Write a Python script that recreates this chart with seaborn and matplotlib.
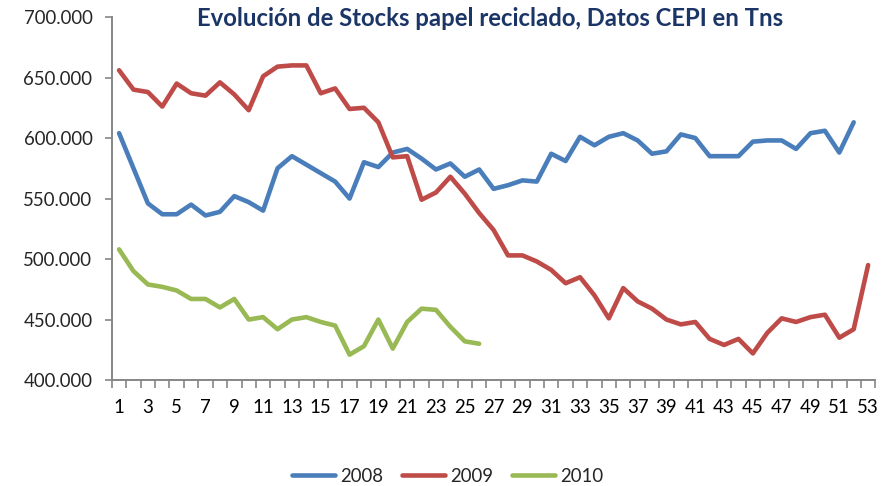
#!/usr/bin/env python3
# -*- coding: utf-8 -*-
"""
Evolucion de stocks de papel reciclado (datos CEPI, en toneladas)
una linea por anyo, semanas 1-53
"""

import numpy as np
import pandas as pd
import matplotlib.pyplot as plt
import seaborn as sns
from matplotlib.ticker import FuncFormatter, FixedLocator

# stocks semanales en miles de toneladas
stocks_2008 = [604, 575, 546, 537, 537, 545, 536, 539, 552, 547,
               540, 575, 585, 578, 571, 564, 550, 580, 576, 588,
               591, 583, 574, 579, 568, 574, 558, 561, 565, 564,
               587, 581, 601, 594, 601, 604, 598, 587, 589, 603,
               600, 585, 585, 585, 597, 598, 598, 591, 604, 606,
               588, 613]
stocks_2009 = [656, 640, 638, 626, 645, 637, 635, 646, 636, 623,
               651, 659, 660, 660, 637, 641, 624, 625, 613, 584,
               585, 549, 555, 568, 554, 538, 524, 503, 503, 498,
               491, 480, 485, 470, 451, 476, 465, 459, 450, 446,
               448, 434, 429, 434, 422, 439, 451, 448, 452, 454,
               435, 442, 495]
stocks_2010 = [508, 490, 479, 477, 474, 467, 467, 460, 467, 450,
               452, 442, 450, 452, 448, 445, 421, 428, 450, 426,
               448, 459, 458, 444, 432, 430]

years = ['2008', '2009', '2010']
colors = ['#4A7EBB', '#BE4B48', '#98B954']
title = 'Evolución de Stocks papel reciclado, Datos CEPI en Tns'

# tabla larga para seaborn
frames = []
for year, vals in zip(years, [stocks_2008, stocks_2009, stocks_2010]):
    frames.append(pd.DataFrame({'semana': np.arange(1, len(vals) + 1),
                                'stock': np.array(vals) * 1000,
                                'year': year}))
df = pd.concat(frames, ignore_index=True)

sns.set_style('white')
plt.rcParams['font.family'] = ['Lato', 'DejaVu Sans']

fig = plt.figure(figsize=(8.95, 4.86), dpi=100)
ax = fig.add_axes([0.125, 0.218, 0.853, 0.747])

sns.lineplot(data=df, x='semana', y='stock', hue='year', palette=colors,
             linewidth=3.3, ax=ax, legend=False)

# ejes tipo excel: categorias, marcas entre semanas
ax.set_xlim(0.5, 53.5)
ax.set_ylim(400000, 700000)
ax.set_yticks(np.arange(400000, 700001, 50000))
ax.yaxis.set_major_formatter(FuncFormatter(lambda v, p: '{:,.0f}'.format(v).replace(',', '.')))
ax.set_xticks(np.arange(1, 54, 2))
ax.xaxis.set_minor_locator(FixedLocator(np.arange(0.5, 54, 1)))
ax.tick_params(axis='x', which='major', length=0, labelsize=13.4, pad=14, colors='black')
ax.tick_params(axis='x', which='minor', length=6, width=1.2, color='#868686', direction='out')
ax.tick_params(axis='y', which='major', length=5, width=1.2, color='#868686', direction='out',
               labelsize=13.4, pad=9)
ax.xaxis.set_ticks_position('bottom')
ax.yaxis.set_ticks_position('left')
ax.set_xlabel('')
ax.set_ylabel('')

for s in ['top', 'right']:
    ax.spines[s].set_visible(False)
for s in ['left', 'bottom']:
    ax.spines[s].set_color('#868686')
    ax.spines[s].set_linewidth(1.4)

fig.text(0.548, 0.962, title, ha='center', va='center', fontsize=17.2,
         fontweight='bold', color='#1B3567')

handles = [plt.Line2D([], [], color=c, linewidth=3.3, solid_capstyle='round') for c in colors]
fig.legend(handles, years, loc='center', bbox_to_anchor=(0.5, 0.02), ncol=3,
           frameon=False, fontsize=13.4, handlelength=2.3, handletextpad=0.3,
           columnspacing=1.0)

plt.savefig('out.png', dpi=100)
plt.close()
